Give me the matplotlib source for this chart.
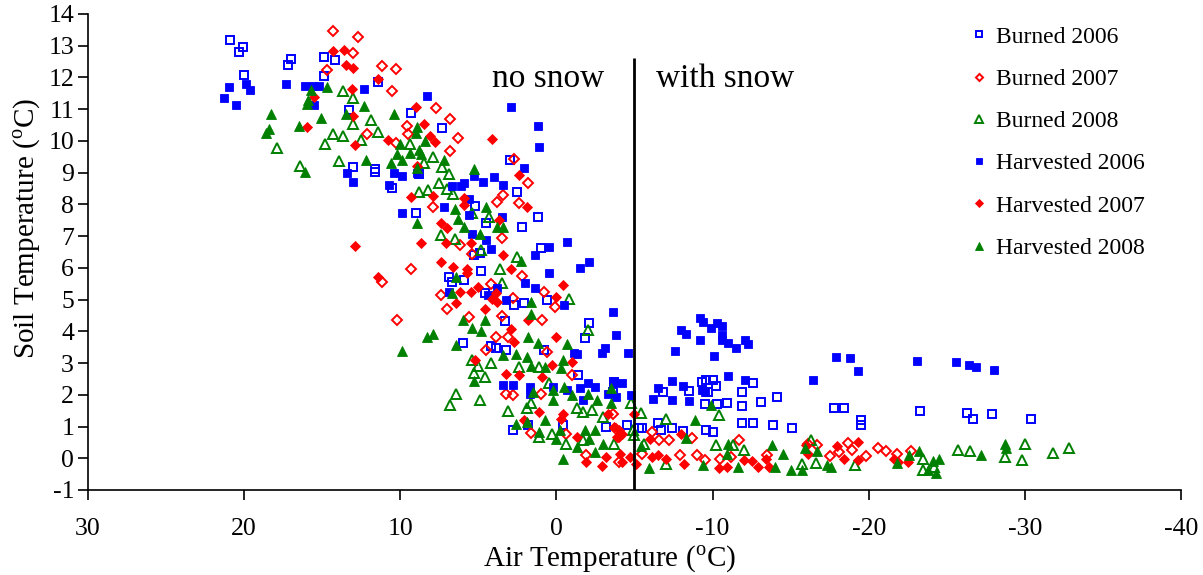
import matplotlib
matplotlib.use('Agg')
import matplotlib.pyplot as plt

plt.rcParams['font.family'] = ['Liberation Serif', 'DejaVu Serif']
plt.rcParams['mathtext.fontset'] = 'custom'
plt.rcParams['mathtext.rm'] = 'Liberation Serif'

# ---------------- data (air temperature, soil temperature) ----------------
b06_x = [20.9, 20.1, 20.3, 20.0, 17.0, 17.2, 14.9, 14.2, 14.9, 13.3, 13.0,
         11.4, 9.3, 7.3, 11.6, 11.6, 8.8, 10.5, 9.0, 5.2, 4.5, 3.0, 2.5, 1.2, 2.2, 1.0,
         4.9, 5.3, 4.8, 6.9, 5.9, 6.7, 4.6, 2.7, 2.1, 3.3, 0.6, -2.1, -1.8, 6.0, 4.2, 3.9,
         3.2, 0.8, -1.4, -3.7, 2.8, 1.8, -0.4, -3.2,
         -3.6, -4.5, -5.3, -5.5, -6.5, -6.7, -6.8, -7.4, -8.1, -8.5, -9.3, -9.6, -10.0,
         -10.2, -9.7, -9.5, -10.3, -10.9, -9.6, -10.0, -11.9, -11.9, -11.9, -12.6, -12.6,
         -13.1, -14.1, -13.9, -15.1, -17.8, -18.4, -19.5, -19.5,
         -23.3, -26.3, -26.7, -27.9, -30.4]
b06_y = [13.19, 12.97, 12.79, 12.09, 12.59, 12.39, 12.64, 12.55, 12.04, 10.96, 9.19,
         11.87, 10.89, 10.40, 9.12, 9.01, 8.96, 8.51, 7.72, 7.96, 7.42, 9.40, 8.40, 7.61, 7.30, 6.62,
         6.48, 6.40, 5.91, 5.72, 5.62, 5.56, 5.20, 4.83, 4.88, 4.32, 4.98, 4.27, 3.78, 3.64, 3.53, 3.46,
         3.41, 3.41, 2.62, 2.41, 0.88, 1.04, 1.04, 0.99,
         2.09, 1.04, 0.96, 0.96, 1.11, 0.88, 2.09, 0.94, 0.86, 2.12, 2.41, 2.46, 2.46,
         2.28, 2.09, 1.70, 1.70, 1.74, 0.88, 0.83, 2.09, 1.64, 1.11, 1.11, 2.38,
         1.78, 1.93, 1.04, 0.94, 1.59, 1.59, 1.20, 1.04,
         1.48, 1.44, 1.23, 1.39, 1.23]

b07_x = [14.3, 12.7, 13.0, 14.7,
         11.2, 10.3, 10.5, 7.7, 6.8, 6.3, 9.6, 9.5, 10.3, 12.1, 6.8, 2.7, 1.8, 3.4, 3.8, 2.4, 7.9, 3.5, 6.2,
         9.3, 11.2, 10.2, 7.4, 7.0, 5.6, 4.2, 3.5, 2.8, 2.2, 0.8, 0.1, 0.9, 3.9, 3.1, 4.5, 0.6, -1.0,
         3.2, 2.8, 1.6, 1.0, -0.6, -1.9, -4.0, 5.4,
         -3.6, -3.8, -4.0, -5.5, -6.1, -6.6, -7.2, -7.9, -8.7, -9.0, -9.5, -10.5, -11.2, -11.7,
         -13.5, -16.1, -16.7, -17.5, -18.1, -18.7, -18.9, -19.8, -20.6,
         -21.1, -21.8, -22.7]
b07_y = [13.46, 13.27, 12.77, 12.22,
         12.37, 12.26, 11.58, 11.03, 10.68, 10.09, 10.47, 10.21, 9.95, 10.22, 9.68, 9.42, 8.68, 8.30, 8.08, 8.03, 7.93, 6.95, 6.72,
         5.98, 5.56, 4.35, 5.14, 4.69, 4.44, 5.48, 4.48, 5.04, 5.75, 5.25, 4.77, 4.35, 3.81, 3.83, 3.41, 3.35, 2.62,
         2.02, 1.99, 0.80, 2.04, 0.78, 0.09, -0.12, 6.45,
         1.41, 0.91, 0.67, 0.15, 0.83, 0.57, 0.57, 0.09, 0.65, 0.09, -0.04, -0.01, 0.04, 0.59,
         0.09, 0.46, 0.41, 0.06, 0.20, 0.48, 0.27, 0.06, 0.31,
         0.23, 0.15, 0.23]

b08_x = [13.7, 13.0, 13.0, 14.3, 13.7, 14.8, 17.9, 13.9, 16.4,
         11.9, 11.4, 12.5, 9.4, 7.9, 8.5, 7.3, 6.9, 7.5, 8.2, 8.8, 7.0, 6.6, 5.4, 4.3, 7.4, 6.5,
         4.8, 3.6, 2.5, 3.5, -0.8, -2.0, 5.4, 5.0, 4.2, 5.3, 4.6, 6.4, 6.8, 4.9, 3.1,
         2.4, 1.6, 1.9, 1.1, 0.5, -1.3, -1.7, -2.3, -3.0, 1.1, 0.3, -0.6, -1.7, -3.7,
         -4.8, -5.4, -7.0, -10.4, -4.9, -5.0, -5.6, -7.0, -10.2, -11.3, -12.0, -16.3, -16.6, -19.1, -15.7,
         -25.7, -26.5, -30.0, -31.8, -32.8, -28.7, -29.8, -23.5, -23.5, -24.2]
b08_y = [11.56, 11.35, 10.54, 10.21, 10.17, 9.91, 9.77, 9.37, 9.22,
         10.66, 10.29, 10.03, 9.91, 9.50, 9.30, 9.19, 8.96, 8.67, 8.45, 8.40, 8.48, 8.33, 7.72, 7.61, 7.03, 6.90,
         6.55, 5.95, 6.33, 5.53, 5.02, 4.04, 3.09, 2.90, 2.99, 2.69, 2.55, 2.04, 1.69, 1.83, 1.49,
         2.88, 1.74, 1.57, 2.88, 2.36, 1.57, 1.46, 1.51, 1.30, 0.67, 0.78, 0.46, 0.57, 0.46,
         1.73, 1.44, 1.25, 1.36, 0.88, 0.73, 0.46, -0.17, 0.41, 0.41, 0.25, 0.59, -0.15, -0.22, -0.19,
         0.25, 0.22, 0.46, 0.17, 0.31, 0.04, -0.04, -0.01, -0.36, -0.27]

h06_x = [21.0, 21.3, 20.5, 19.9, 19.6, 17.3, 16.1, 15.6, 15.2, 15.5, 13.4, 13.0,
         12.3, 8.3, 2.9, 1.2, 1.1, 2.1, 4.0, 3.4, 4.7, 5.3, 5.9, 6.7, 6.1, 10.4, 9.9, 10.7, 8.9,
         7.2, 5.6, 5.6, 9.9, 3.5, 5.4, 4.5, 0.5, -0.7,
         4.2, 1.4, -1.5, -2.1, 0.5, 2.0, 1.4, -0.5, 3.8, 3.2, 6.9, 4.4, -3.6, -3.8, -3.1, -2.9,
         -1.1, -1.3, 3.4, 2.8, 1.7, 1.7, 0.2, -0.7, -1.5, -2.0, -2.5, -1.7, -3.3, -3.8, -3.7,
         -4.6, -4.2, -4.8, -6.2, -6.5, -7.4, -7.4, -8.1, -8.5, -9.3, -9.5, -11.0, -12.1,
         -7.6, -8.0, -8.3, -9.2, -9.4, -9.9, -10.3, -10.6, -10.6, -10.6, -11.0, -11.5, -12.1, -12.3,
         -9.2, -10.1, -16.4, -17.9, -18.8, -19.3,
         -23.1, -25.6, -26.4, -26.9, -28.0]
h06_y = [11.69, 11.35, 11.14, 11.79, 11.59, 11.79, 11.74, 11.74, 11.72, 11.14, 8.98, 8.72,
         11.64, 11.43, 11.08, 10.48, 9.80, 9.16, 8.87, 8.61, 8.70, 8.91, 8.67, 8.59, 8.58, 9.00, 8.91, 8.61, 9.00,
         7.91, 8.17, 7.67, 7.72, 7.61, 7.06, 6.88, 6.67, 6.80,
         6.58, 6.40, 6.00, 6.19, 5.83, 5.53, 5.35, 4.83, 5.35, 4.98, 5.25, 5.14, 4.62, 3.88, 3.49, 3.33,
         3.33, 3.30, 2.30, 2.30, 2.25, 2.04, 2.25, 2.15, 2.20, 2.36, 2.25, 1.83, 2.04, 1.93, 2.41,
         3.33, 2.38, 1.99, 1.88, 2.20, 2.44, 1.83, 2.28, 1.81, 2.15, 2.09, 2.59, 2.48,
         3.38, 4.04, 3.93, 4.43, 4.30, 4.12, 4.27, 4.16, 3.88, 3.72, 3.62, 3.49, 3.74, 3.60,
         3.74, 3.23, 2.48, 3.20, 3.15, 2.74,
         3.07, 3.02, 2.93, 2.88, 2.78]

h07_x = [14.3, 13.6, 13.5, 13.0, 13.1, 15.5, 16.0, 12.9, 13.0, 12.9,
         11.4, 10.8, 9.0, 8.5, 8.1, 7.8, 8.9, 4.1, 2.4, 1.9, 9.3, 7.9, 5.9, 5.9, 7.4, 7.0, 3.7, 8.7, 7.1, 5.5,
         7.4, 6.6, 5.7, 5.7, 3.4, 2.9, 11.4, 6.2, 5.5, 5.0, 3.9, 4.1, 3.8, 6.4, 4.6,
         1.8, 2.9, 2.7, 0.0, -0.4, 0.0, 5.2, 3.2, 2.4, 0.9, 0.3, -1.0,
         1.1, 2.1, -0.3, -0.4, -1.3, -1.9, -2.9, -3.2, -3.3,
         -5.0, -3.7, -4.0, -4.2, -3.9, -4.1, -4.2, -4.7, -5.1, -6.0, -6.1, -6.5, -7.0, -8.0, -8.2,
         -10.4, -10.9, -12.0, -12.5, -12.9, -13.4, -13.6, -16.0, -16.1, -18.0, -18.4, -19.3, -19.3,
         -21.6, -21.9, -22.5]
h07_y = [12.82, 12.85, 12.38, 12.31, 11.63, 11.37, 10.43, 9.87, 10.77, 6.70,
         11.96, 10.03, 11.06, 10.53, 10.16, 9.96, 9.22, 10.06, 8.93, 7.93, 8.22, 8.26, 8.19, 7.98, 7.40, 7.26, 7.51, 6.79, 6.79, 6.77,
         6.17, 6.03, 5.95, 5.83, 6.40, 5.98, 5.70, 5.25, 5.23, 5.40, 5.21, 5.01, 4.93, 4.90, 4.69,
         4.35, 4.06, 3.67, 3.81, 5.46, 5.09, 3.11, 2.65, 2.62, 2.55, 2.93, 3.04,
         1.46, 1.20, 1.25, 1.41, 0.67, -0.12, -0.25, 0.04, 1.41,
         1.41, 0.99, 0.88, 0.78, 0.67, 0.15, -0.12, 0.04, -0.17, 0.62, 0.04, 0.09, -0.01, 0.78, -0.17,
         -0.32, -0.27, -0.06, -0.09, -0.29, -0.01, -0.27, 0.41, 0.15, 0.38, -0.01, 0.51, -0.06,
         -0.01, -0.12, -0.12]

h08_x = [15.7, 15.9, 16.0, 14.7, 18.3, 18.4, 18.6, 16.5, 15.1, 13.5, 16.1,
         12.3, 10.4, 8.9, 9.0, 8.4, 10.0, 9.4, 8.8, 8.7, 10.2, 9.9, 10.6, 12.2, 7.2, 8.9, 5.3,
         6.5, 4.5, 6.3, 5.9, 3.8, 3.4, 4.9, 8.9,
         6.4, 6.7, 2.3, 1.6, 1.6, 6.0, 5.4, 4.8, 4.6, 8.3, 7.9, 9.9, 6.4,
         3.4, 2.6, 1.8, 1.2, 1.9, 1.6, 0.7, -0.4, -0.7, -0.3,
         5.3, 1.5, 0.2, -0.5, 0.2, -1.0, -2.0, -2.6, -3.5,
         2.6, 1.9, 1.1, 0.7, 0.0, -0.2, -1.3, -1.8, -2.5, -2.5, -2.1, -3.0, -0.4, -3.5,
         -5.4, -5.9, -8.3, -8.9, -9.9, -9.4, -11.0, -10.9, -11.6, -13.8, -14.0, -14.5, -15.0,
         -15.7, -15.9, -16.7, -17.3, -17.6,
         -23.2, -22.6, -27.2, -28.7, -28.8, -24.1, -24.5, -23.8, -24.3, -21.8]
h08_y = [11.61, 11.29, 11.17, 11.69, 10.85, 10.38, 10.24, 10.47, 10.72, 10.85, 9.01,
         11.11, 10.84, 10.45, 10.24, 10.00, 9.90, 9.61, 9.72, 9.59, 9.59, 9.40, 9.30, 9.40, 9.40, 9.14, 9.12,
         7.85, 7.93, 7.54, 7.28, 7.30, 7.30, 7.07, 7.42,
         5.70, 5.20, 6.22, 4.93, 4.54, 4.35, 4.12, 4.02, 4.35, 3.83, 3.93, 3.38, 3.56,
         3.25, 3.30, 3.83, 3.62, 3.20, 2.90, 2.88, 3.11, 3.60, 2.83,
         2.44, 2.09, 2.15, 2.25, 1.85, 1.99, 2.04, 1.83, 2.20,
         1.09, 1.15, 0.83, 1.20, 0.62, 0.88, 0.36, 0.88, 0.88, 0.20, 0.62, 0.46, -0.01, 1.73,
         0.39, -0.32, 0.64, 1.20, 1.67, -0.22, 0.46, 0.15, -0.27, 0.41, -0.27, 0.15, -0.38,
         -0.38, 0.31, 0.23, -0.22, -0.27,
         0.23, 0.09, 0.09, 0.46, 0.31, -0.09, -0.01, -0.38, -0.46, -0.15]

series_labels = ['Burned 2006', 'Burned 2007', 'Burned 2008',
                 'Harvested 2006', 'Harvested 2007', 'Harvested 2008']
x_ticks = [30, 20, 10, 0, -10, -20, -30, -40]
y_ticks = list(range(-1, 15))
snow_boundary = -5
region_labels = ['no snow', 'with snow']

# ---------------- figure ----------------
fig = plt.figure(figsize=(12.03, 5.75), dpi=100)
ax = fig.add_axes([88 / 1203, 85 / 575, 1093 / 1203, 476 / 575])

blue, red, green = '#0000FF', '#FF0000', '#008000'
styles = [
    (b06_x, b06_y, 's', blue, False, 6.2),
    (b07_x, b07_y, 'D', red, False, 4.8),
    (b08_x, b08_y, '^', green, False, 7.2),
    (h06_x, h06_y, 's', blue, True, 6.4),
    (h07_x, h07_y, 'D', red, True, 5.0),
    (h08_x, h08_y, '^', green, True, 7.4),
]
handles = []
for (xs, ys, mk, col, filled, ms), lab in zip(styles, series_labels):
    h, = ax.plot(xs, ys, linestyle='none', marker=mk, markersize=ms,
                 markerfacecolor=col if filled else 'none',
                 markeredgecolor=col, markeredgewidth=1.4 if not filled else 0.6,
                 label=lab)
    handles.append(h)

ax.plot([snow_boundary, snow_boundary], [-1, 12.6], color='black', lw=2, solid_capstyle='butt')
ax.text(4.1, 11.7, region_labels[0], fontsize=24, ha='left', va='baseline')
ax.text(-6.4, 11.7, region_labels[1], fontsize=24, ha='left', va='baseline')

ax.set_xlim(30, -40)
ax.set_ylim(-1, 14)
ax.set_xticks(x_ticks)
ax.set_xticklabels([str(t) for t in x_ticks])
ax.set_yticks(y_ticks)
ax.set_yticklabels([str(t) for t in y_ticks])

for s in ['top', 'right']:
    ax.spines[s].set_visible(False)
for s in ['left', 'bottom']:
    ax.spines[s].set_linewidth(1.2)
    ax.spines[s].set_color('black')

ax.tick_params(axis='both', direction='out', length=7, width=1.2, labelsize=18.5, colors='black')
ax.tick_params(axis='x', pad=13)
ax.tick_params(axis='y', pad=3)

ax.set_xlabel('Air Temperature ($^{\\rm o}$C)', fontsize=21, va='center')
ax.xaxis.set_label_coords(0.477, -0.145)
ax.set_ylabel('Soil Temperature ($^{\\rm o}$C)', fontsize=21, va='center')
ax.yaxis.set_label_coords(-0.0558, 0.55)

ax.legend(handles=handles, loc='upper left', bbox_to_anchor=(972 / 1203, 1 - 26 / 575),
          bbox_transform=fig.transFigure, frameon=False, fontsize=17, markerscale=0.75,
          handlelength=0.6, handletextpad=0.4, labelspacing=0.88, borderpad=0, borderaxespad=0)

fig.savefig('out.png', dpi=100)
